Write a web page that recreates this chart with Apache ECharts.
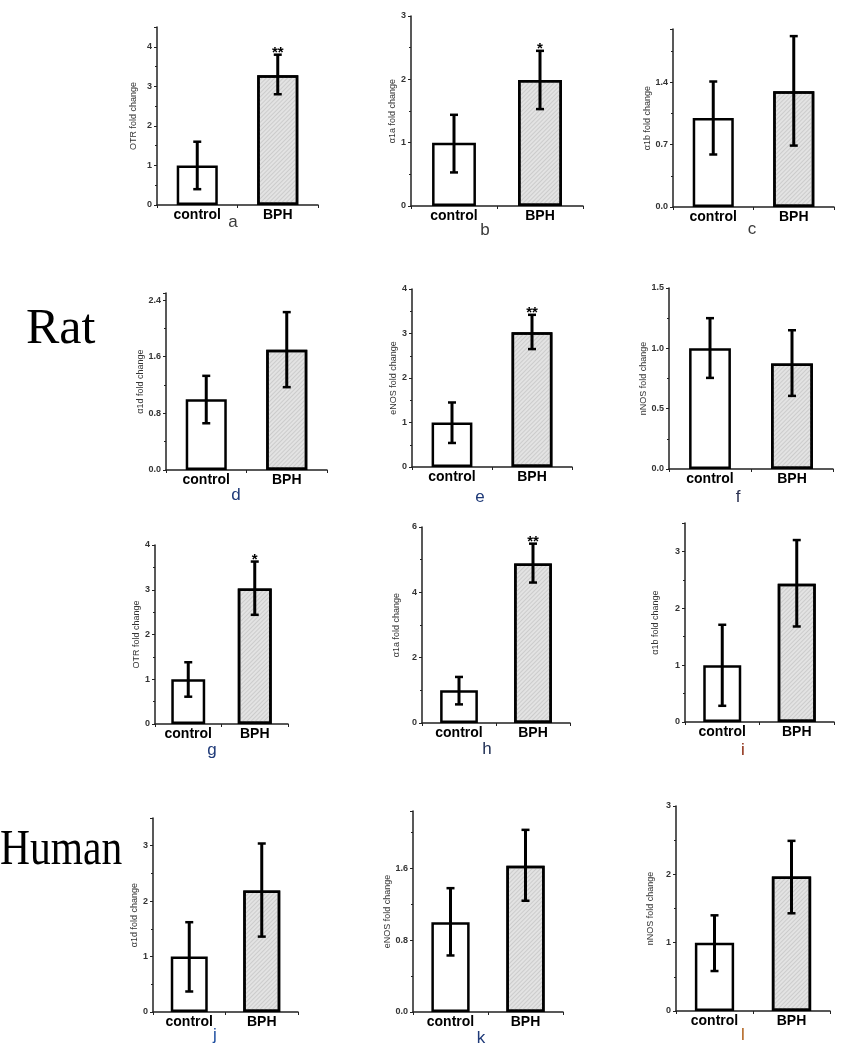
<!DOCTYPE html>
<html>
<head>
<meta charset="utf-8">
<script src="https://cdn.jsdelivr.net/npm/echarts@6/dist/echarts.min.js"></script>
<style>
  html, body { margin: 0; padding: 0; background: #fff; }
  #main { width: 847px; height: 1055px; }
</style>
</head>
<body>
<div id="main"></div>
<script>
// data
const categories = ['control', 'BPH']
const panelLetters = ['a', 'b', 'c', 'd', 'e', 'f', 'g', 'h', 'i', 'j', 'k', 'l']
const yTitles = ['OTR fold change', 'α1a fold change', 'α1b fold change',
  'α1d fold change', 'eNOS fold change', 'nNOS fold change',
  'OTR fold change', 'α1a fold change', 'α1b fold change',
  'α1d fold change', 'eNOS fold change', 'nNOS fold change']
const controlMean = [1.0, 1.0, 1.0, 1.0, 1.0, 1.0, 1.0, 1.0, 1.0, 1.0, 1.0, 1.0]
const controlLow = [0.40, 0.53, 0.59, 0.66, 0.54, 0.755, 0.61, 0.57, 0.285, 0.37, 0.63, 0.585]
const controlHigh = [1.60, 1.44, 1.41, 1.33, 1.45, 1.25, 1.38, 1.41, 1.71, 1.62, 1.38, 1.40]
const bphMean = [3.28, 1.99, 1.30, 1.70, 3.03, 0.874, 3.03, 4.88, 2.43, 2.19, 1.63, 1.97]
const bphLow = [2.80, 1.53, 0.69, 1.17, 2.65, 0.606, 2.44, 4.30, 1.68, 1.36, 1.24, 1.43]
const bphHigh = [3.80, 2.45, 1.92, 2.23, 3.42, 1.15, 3.63, 5.49, 3.20, 3.04, 2.03, 2.49]
const stars = ['**', '*', '', '', '**', '', '*', '**', '', '', '', '']
// axis scales / tick labels
const yMax = [4.5, 3, 2.0, 2.5, 4, 1.5, 4, 6, 3.5, 3.5, 2.24, 3]
const yStep = [1, 1, 0.7, 0.8, 1, 0.5, 1, 2, 1, 1, 0.8, 1]
const yDecimals = [0, 0, 1, 1, 0, 1, 0, 0, 0, 0, 1, 0]
const showTopLabel = [false, true, false, false, true, true, true, true, false, false, false, true]
const rowLabels = ['Rat', 'Human']

// panel placement: [left, top, width, height, titleX, letterX, letterY, letterColor]
const layout = [
  [157, 27, 161, 178, 133, 233, 222, '#3a3a3a'],
  [411, 16, 172, 190, 397, 485, 230, '#3a3a3a'],
  [673, 29, 161, 178, 655, 752, 229, '#3a3a3a'],
  [166, 293, 161, 177, 146, 236, 495, '#1f3a78'],
  [412, 289, 160, 178, 398, 480, 497, '#1f3a78'],
  [669, 288, 164, 181, 655, 738, 497, '#2a3050'],
  [155, 545, 133, 179, 145, 212, 750, '#1f3a78'],
  [422, 527, 148, 196, 396, 487, 749, '#1a2a50'],
  [685, 523, 149, 199, 655, 743, 750, '#8a2a10'],
  [153, 818, 145, 194, 140, 215, 1035, '#1f4fa0'],
  [413, 811, 150, 201, 398, 481, 1038, '#1f3a78'],
  [676, 806, 154, 205, 650, 743, 1035, '#b0601a']
]

const chart = echarts.init(document.getElementById('main'))

const grids = [], xAxes = [], yAxes = [], series = [], graphics = []

// light diagonal hatching of the BPH bars
const hatch = {
  symbol: 'rect',
  symbolSize: 1,
  color: 'rgba(160,160,160,0.35)',
  dashArrayX: [1, 0],
  dashArrayY: [1, 2],
  rotation: -Math.PI / 4
}

layout.forEach((p, i) => {
  grids.push({left: p[0], top: p[1], width: p[2], height: p[3], outerBoundsMode: 'none'})
  xAxes.push({
    gridIndex: i,
    type: 'category',
    data: categories,
    axisLine: {lineStyle: {color: '#222', width: 1.5}},
    axisTick: {show: true, length: 3, lineStyle: {color: '#222'}},
    axisLabel: {color: '#000', fontSize: 14, fontWeight: 'bold', fontFamily: 'Liberation Sans, Arial', margin: 3}
  })
  yAxes.push({
    gridIndex: i,
    type: 'value',
    min: 0,
    max: yMax[i],
    interval: yStep[i],
    name: yTitles[i],
    nameLocation: 'middle',
    nameGap: p[0] - p[4] - 5,
    nameTextStyle: {fontSize: 9, color: '#333', fontFamily: 'Liberation Sans, Arial'},
    splitLine: {show: false},
    axisLine: {show: true, lineStyle: {color: '#222', width: 1.5}},
    axisTick: {show: true, length: 3, lineStyle: {color: '#222'}},
    minorTick: {show: true, splitNumber: 2, length: 2, lineStyle: {color: '#222'}},
    axisLabel: {
      color: '#333', fontSize: 9, fontWeight: 'bold', margin: 5,
      fontFamily: 'Liberation Sans, Arial',
      showMaxLabel: showTopLabel[i],
      formatter: v => v.toFixed(yDecimals[i])
    }
  })
  series.push({
    type: 'bar',
    xAxisIndex: i,
    yAxisIndex: i,
    barWidth: '51%',
    silent: true,
    data: [
      {value: controlMean[i], itemStyle: {color: '#fff', borderColor: '#000', borderWidth: 2.5}},
      {value: bphMean[i], itemStyle: {color: '#e3e3e3', borderColor: '#000', borderWidth: 2.5, decal: hatch}}
    ]
  })
  // error bars + significance stars
  series.push({
    type: 'custom',
    xAxisIndex: i,
    yAxisIndex: i,
    silent: true,
    z: 5,
    data: [
      [0, controlLow[i], controlHigh[i], ''],
      [1, bphLow[i], bphHigh[i], stars[i]]
    ],
    renderItem: (params, api) => {
      const lo = api.coord([api.value(0), api.value(1)])
      const hi = api.coord([api.value(0), api.value(2)])
      const x = lo[0], c = 4
      const children = [
        {type: 'line', shape: {x1: x, y1: lo[1], x2: x, y2: hi[1]}, style: {stroke: '#000', lineWidth: 3}},
        {type: 'line', shape: {x1: x - c, y1: lo[1], x2: x + c, y2: lo[1]}, style: {stroke: '#000', lineWidth: 2.5}},
        {type: 'line', shape: {x1: x - c, y1: hi[1], x2: x + c, y2: hi[1]}, style: {stroke: '#000', lineWidth: 2.5}}
      ]
      const s = api.value(3)
      if (s) {
        children.push({type: 'text', x: x, y: hi[1] + 6,
          style: {text: s, fill: '#000', fontSize: 15, fontWeight: 'bold', align: 'center', verticalAlign: 'bottom', fontFamily: 'Liberation Sans, Arial'}})
      }
      return {type: 'group', children: children}
    }
  })
  graphics.push({
    type: 'text', x: p[5], y: p[6],
    style: {text: panelLetters[i], fill: p[7], fontSize: 17, align: 'center', verticalAlign: 'middle', fontFamily: 'Liberation Sans, Arial'}
  })
})

// row labels
graphics.push({type: 'text', x: 26, y: 305, style: {text: rowLabels[0], fill: '#000', fontSize: 50, fontFamily: 'Liberation Serif, Times New Roman', verticalAlign: 'alphabetic'}})
graphics.push({type: 'text', x: 0, y: 826, scaleX: 0.83, style: {text: rowLabels[1], fill: '#000', fontSize: 50, fontFamily: 'Liberation Serif, Times New Roman', verticalAlign: 'alphabetic'}})

chart.setOption({
  backgroundColor: '#fff',
  animation: false,
  grid: grids,
  xAxis: xAxes,
  yAxis: yAxes,
  series: series,
  graphic: graphics
})
</script>
</body>
</html>
